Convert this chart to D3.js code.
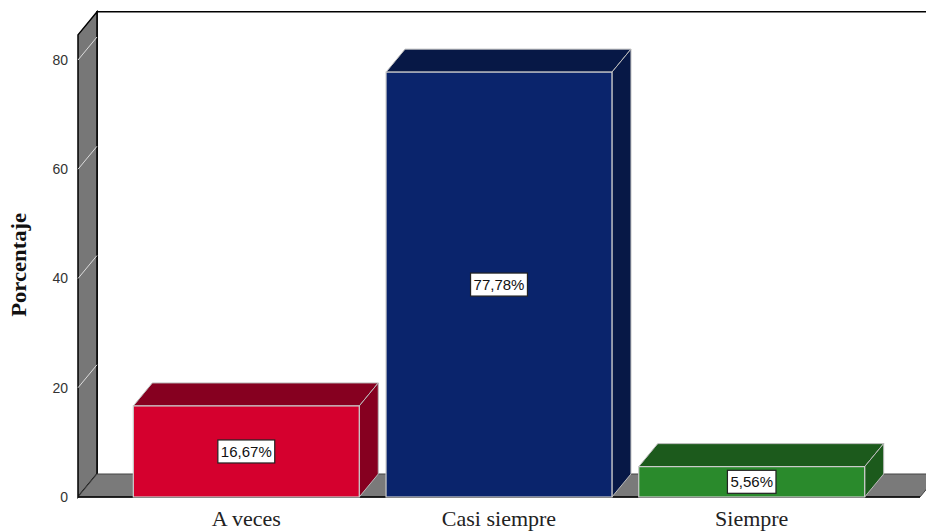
<!DOCTYPE html>
<meta charset="utf-8">
<style>
body { margin: 0; background: #fff; }
.tick text { font-family: "Liberation Sans", Arial, sans-serif; font-size: 14px; fill: #333; }
.cat { font-family: "Liberation Serif", "Times New Roman", serif; font-size: 22px; fill: #222; }
.ytitle { font-family: "Liberation Serif", "Times New Roman", serif; font-size: 20px; font-weight: bold; fill: #111; }
.val { font-family: "Liberation Sans", Arial, sans-serif; font-size: 15px; fill: #111; }
</style>
<svg width="926" height="531"></svg>
<script src="https://d3js.org/d3.v7.min.js"></script>
<script>

var categories = ["A veces", "Casi siempre", "Siempre"];
var values = [16.67, 77.78, 5.56];
var valueLabels = ["16,67%", "77,78%", "5,56%"];
var yTicks = [0, 20, 40, 60, 80];

var frontColors = ["#d5002e", "#0a246c", "#2a8a2c"];
var darkColors = ["#860020", "#071846", "#1c5a1c"];

var DX = 19, DY = 23;   // 3d depth offset

var svg = d3.select("svg");

var x = d3.scaleBand()
    .domain(categories)
    .range([78, 920])
    .paddingInner(0.106)
    .paddingOuter(0.219);

var y = d3.scaleLinear()
    .domain([0, 80])
    .range([497, 60]);

var yTop = y(84.6);

/************* WALLS ***************/
// back wall outline
svg.append("path")
    .attr("d", "M" + (78 + DX) + "," + (y(0) - DY) + "V" + (yTop - DY) + "H926")
    .attr("fill", "none")
    .attr("stroke", "#000")
    .attr("stroke-width", 1.5);

// side wall
svg.append("polygon")
    .attr("points", [[78, yTop], [78 + DX, yTop - DY], [78 + DX, y(0) - DY], [78, y(0)]].join(" "))
    .attr("fill", "#777")
    .attr("stroke", "#000")
    .attr("stroke-width", 1.5);

// grid lines on the side wall
svg.selectAll(".grid")
    .data(yTicks.filter(function(d) { return d > 0; }))
    .enter().append("line")
      .attr("x1", 78).attr("y1", function(d) { return y(d); })
      .attr("x2", 78 + DX).attr("y2", function(d) { return y(d) - DY; })
      .attr("stroke", "#ddd")
      .attr("stroke-width", 1);

// floor
svg.append("polygon")
    .attr("points", [[78, y(0)], [78 + DX, y(0) - DY], [920 + DX, y(0) - DY], [920, y(0)]].join(" "))
    .attr("fill", "#7a7a7a")
    .attr("stroke", "#444")
    .attr("stroke-width", 1);
svg.append("line")
    .attr("x1", 78).attr("x2", 920)
    .attr("y1", y(0)).attr("y2", y(0))
    .attr("stroke", "#000").attr("stroke-width", 1.5);

/************* AXIS ***************/
var axis = svg.append("g")
    .attr("transform", "translate(75,0)")
    .call(d3.axisLeft(y).tickValues(yTicks).tickSize(0).tickPadding(7));
axis.select(".domain").remove();

svg.append("text")
    .attr("class", "ytitle")
    .attr("transform", "translate(26," + y(42.5) + ") rotate(-90)")
    .attr("text-anchor", "middle")
    .attr("textLength", 104)
    .attr("lengthAdjust", "spacingAndGlyphs")
    .text("Porcentaje");

/************* BARS ***************/
var data = categories.map(function(c, i) {
  return { cat: c, v: values[i], label: valueLabels[i], front: frontColors[i], dark: darkColors[i] };
});

var bars = svg.selectAll(".bar")
    .data(data)
    .enter().append("g")
      .attr("class", "bar");

bars.append("polygon")
    .attr("points", function(d) {
      var x0 = x(d.cat), x1 = x0 + x.bandwidth(), t = y(d.v);
      return [[x0, t], [x0 + DX, t - DY], [x1 + DX, t - DY], [x1, t]].join(" ");
    })
    .attr("fill", function(d) { return d.dark; })
    .attr("stroke", "#bbb").attr("stroke-width", 1);

bars.append("polygon")
    .attr("points", function(d) {
      var x1 = x(d.cat) + x.bandwidth(), t = y(d.v);
      return [[x1, t], [x1 + DX, t - DY], [x1 + DX, y(0) - DY], [x1, y(0)]].join(" ");
    })
    .attr("fill", function(d) { return d.dark; })
    .attr("stroke", "#bbb").attr("stroke-width", 1);

bars.append("rect")
    .attr("x", function(d) { return x(d.cat); })
    .attr("y", function(d) { return y(d.v); })
    .attr("width", x.bandwidth())
    .attr("height", function(d) { return y(0) - y(d.v); })
    .attr("fill", function(d) { return d.front; })
    .attr("stroke", "#ccc").attr("stroke-width", 1.2);

/************* VALUE LABELS ***************/
var lab = bars.append("g")
    .attr("transform", function(d) {
      return "translate(" + (x(d.cat) + x.bandwidth() / 2) + "," + ((y(d.v) + y(0)) / 2) + ")";
    });

lab.append("text")
    .attr("class", "val")
    .attr("text-anchor", "middle")
    .attr("dy", "0.36em")
    .text(function(d) { return d.label; });

lab.insert("rect", "text")
    .each(function() {
      var t = d3.select(this.parentNode).select("text").node().getBBox();
      d3.select(this)
        .attr("x", t.x - 3).attr("y", -11.5)
        .attr("width", t.width + 6).attr("height", 23);
    })
    .attr("fill", "#fff")
    .attr("stroke", "#222")
    .attr("stroke-width", 1.2);

/************* CATEGORY LABELS ***************/
svg.selectAll(".cat")
    .data(categories)
    .enter().append("text")
      .attr("class", "cat")
      .attr("x", function(d) { return x(d) + x.bandwidth() / 2; })
      .attr("y", 526)
      .attr("text-anchor", "middle")
      .text(function(d) { return d; });

</script>
